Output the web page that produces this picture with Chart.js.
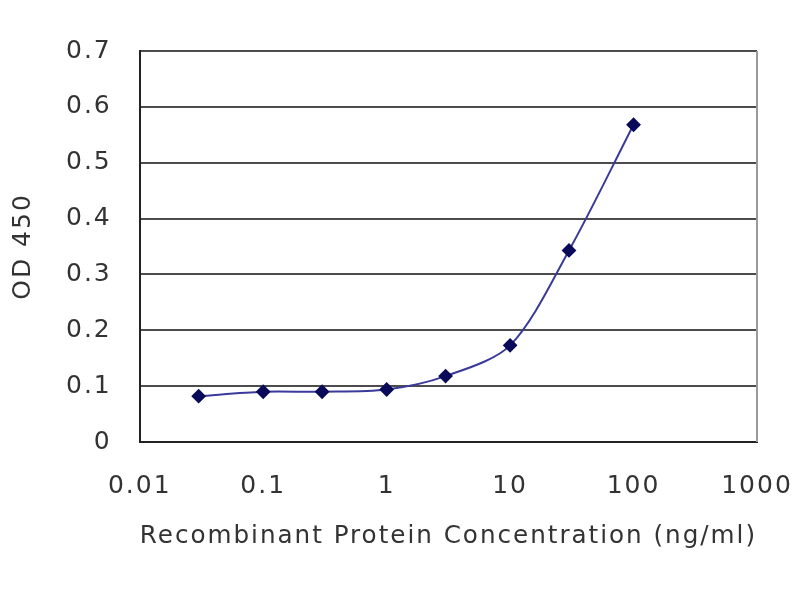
<!DOCTYPE html>
<html>
<head>
<meta charset="utf-8">
<script src="https://cdn.jsdelivr.net/npm/chart.js@4.4.0/dist/chart.umd.min.js"></script>
<style>
  html, body { margin: 0; padding: 0; background: #fff; }
  #wrap { width: 800px; height: 600px; }
</style>
</head>
<body>
<div id="wrap"><canvas id="odChart" width="800" height="600"></canvas></div>
<script>
// concentration (ng/ml) and OD 450 readings
const concentrations = [0.03, 0.1, 0.3, 1, 3, 10, 30, 100];
const odValues = [0.082, 0.090, 0.090, 0.094, 0.118, 0.173, 0.343, 0.568];
const xTicks = [0.01, 0.1, 1, 10, 100, 1000];
const yTicks = [0, 0.1, 0.2, 0.3, 0.4, 0.5, 0.6, 0.7];
const yTickLabels = ['0', '0.1', '0.2', '0.3', '0.4', '0.5', '0.6', '0.7'];

const labelFont = { family: 'DejaVu Sans', size: 25 };
const textColor = '#333333';

// texto más ancho, como en la imagen original
const wideText = {
    id: 'wideText',
    beforeUpdate(chart) {
        chart.ctx.letterSpacing = '2px';
    },
    beforeDraw(chart) {
        chart.ctx.letterSpacing = '2px';
    }
};

// borde derecho gris del área del gráfico
const frameRight = {
    id: 'frameRight',
    afterDraw(chart) {
        const a = chart.chartArea;
        const c = chart.ctx;
        c.save();
        c.strokeStyle = '#9a9a9a';
        c.lineWidth = 2;
        c.beginPath();
        c.moveTo(a.right, a.top);
        c.lineTo(a.right, a.bottom);
        c.stroke();
        c.restore();
    }
};

const ctx = document.getElementById('odChart').getContext('2d');
new Chart(ctx, {
    type: 'line',
    data: {
        datasets: [{
            data: concentrations.map((c, i) => ({ x: c, y: odValues[i] })),
            borderColor: '#3a3a9a',
            borderWidth: 2,
            backgroundColor: '#0a0a5a',
            pointStyle: 'rectRot',
            pointRadius: 6,
            pointBorderColor: '#0a0a5a',
            tension: 0.3
        }]
    },
    options: {
        responsive: false,
        animation: false,
        layout: { padding: { left: 4, top: 51, right: 0, bottom: 45 } },
        plugins: { legend: { display: false }, tooltip: { enabled: false } },
        scales: {
            x: {
                type: 'logarithmic',
                min: 0.01,
                max: 1000,
                afterBuildTicks(axis) {
                    axis.ticks = xTicks.map(v => ({ value: v }));
                },
                afterFit(axis) {
                    axis.paddingRight = 43;
                },
                ticks: {
                    color: textColor,
                    font: labelFont,
                    padding: 29,
                    maxRotation: 0,
                    callback: (v) => String(v)
                },
                grid: { drawOnChartArea: false, drawTicks: false },
                border: { color: '#222', width: 2 },
                title: {
                    display: true,
                    text: 'Recombinant Protein Concentration (ng/ml)',
                    color: textColor,
                    font: labelFont,
                    padding: { top: -9, bottom: 4 }
                }
            },
            y: {
                min: 0,
                max: 0.7,
                afterBuildTicks(axis) {
                    axis.ticks = yTicks.map(v => ({ value: v }));
                },
                ticks: {
                    color: textColor,
                    font: labelFont,
                    padding: 28,
                    callback: (v, i) => yTickLabels[i]
                },
                grid: { color: '#4c4c4c', lineWidth: 2, drawTicks: false },
                border: { color: '#222', width: 2 },
                title: {
                    display: true,
                    text: 'OD 450',
                    color: textColor,
                    font: labelFont,
                    padding: { top: 4, bottom: 0 }
                }
            }
        }
    },
    plugins: [wideText, frameRight]
});
</script>
</body>
</html>
